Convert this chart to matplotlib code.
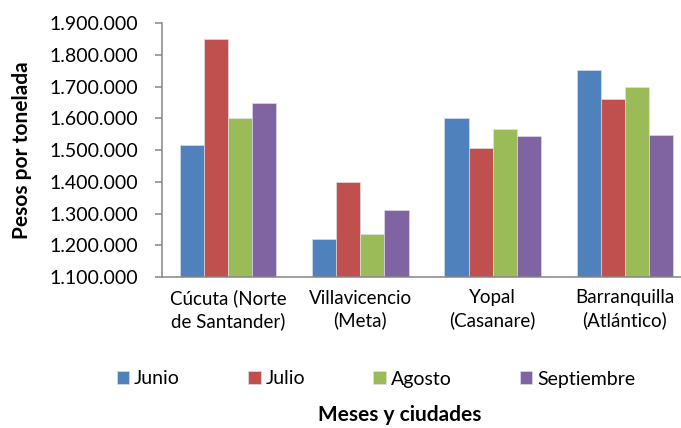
import matplotlib
matplotlib.use("Agg")
import matplotlib.pyplot as plt
from matplotlib.ticker import FuncFormatter, MultipleLocator
import numpy as np

ciudades = ["Cúcuta (Norte\nde Santander)", "Villavicencio\n(Meta)",
            "Yopal\n(Casanare)", "Barranquilla\n(Atlántico)"]
meses = ["Junio", "Julio", "Agosto", "Septiembre"]
junio = [1515000, 1221000, 1600000, 1751000]
julio = [1850000, 1400000, 1505000, 1660000]
agosto = [1600000, 1234000, 1565000, 1699000]
septiembre = [1647000, 1310000, 1543000, 1546000]
colores = ["#4F81BD", "#C0504D", "#9BBB59", "#8064A2"]

plt.rcParams['font.family'] = ['Lato', 'DejaVu Sans']

fig = plt.figure(figsize=(6.81, 4.28), dpi=100)
ax = fig.add_axes([162 / 681, 151 / 428, 529 / 681, 254 / 428])

x = np.arange(len(ciudades))
ancho = 0.182
series = [junio, julio, agosto, septiembre]
for i, (vals, c, m) in enumerate(zip(series, colores, meses)):
    ax.bar(x + (i - 1.5) * ancho, vals, ancho, color=c, label=m,
           edgecolor="#dfe6f0", linewidth=0.4)

ax.set_xlim(-0.5, 3.5)
ax.set_ylim(1100000, 1900000)
ax.yaxis.set_major_locator(MultipleLocator(100000))
ax.yaxis.set_major_formatter(FuncFormatter(lambda v, p: f"{int(v):,}".replace(",", ".")))
ax.set_xticks(x)
ax.set_xticklabels(ciudades, linespacing=1.3)

for s in ["top", "right"]:
    ax.spines[s].set_visible(False)
for s in ["left", "bottom"]:
    ax.spines[s].set_color("#868686")
    ax.spines[s].set_linewidth(1.1)

ax.tick_params(axis="y", length=5, width=1.1, color="#868686", pad=12, labelsize=14)
ax.tick_params(axis="x", length=0, pad=9, labelsize=13.5)

ax.set_ylabel("Pesos por tonelada", fontsize=15, fontweight="bold", labelpad=13)
fig.text(400 / 681, 1 - 415 / 428, "Meses y ciudades", fontsize=15,
         fontweight="bold", ha="center", va="center")

fig.legend(loc="center", bbox_to_anchor=(376 / 681, 1 - 379 / 428), ncol=4,
           frameon=False, fontsize=14, handlelength=0.65, handleheight=0.65,
           handletextpad=0.25, columnspacing=3.5)

fig.savefig("out.png", dpi=100)
